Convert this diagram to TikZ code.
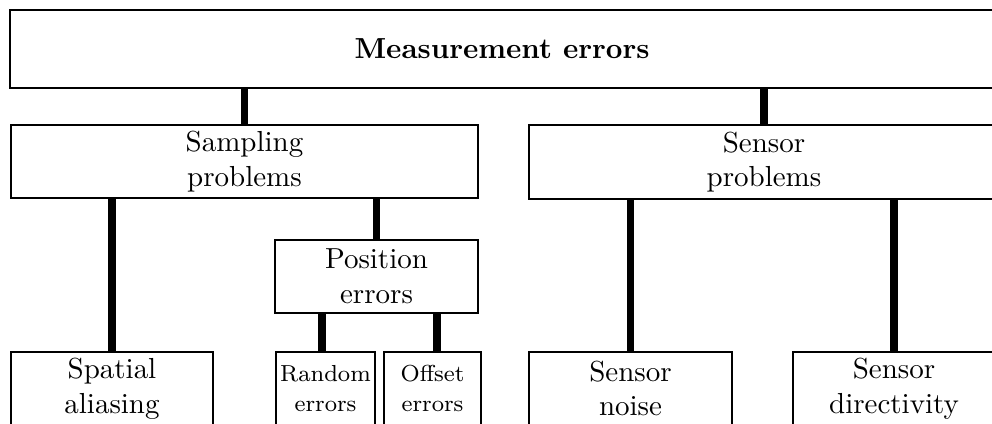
\documentclass[tikz,border=0pt]{standalone}
\begin{document}
\begin{tikzpicture}[
  x=0.345pt, y=-0.345pt,
  blk/.style={draw, line width=0.7pt, rectangle, inner sep=0pt, outer sep=0pt,
              align=center, font=\fontsize{10}{12}\selectfont},
  smallblk/.style={blk, font=\fontsize{8}{10.3}\selectfont},
  link/.style={line width=2.6pt},
]
\useasboundingbox (0,0) rectangle (992,423);
\clip (0,0) rectangle (992,423);

% top level
\node[blk, minimum width={984*0.345pt}, minimum height={78*0.345pt}]
  (root) at (502,49) {\textbf{Measurement errors}};

% second level
\node[blk, minimum width={467*0.345pt}, minimum height={73*0.345pt}]
  (samp) at (244.5,161.5) {Sampling\\problems};
\node[blk, minimum width={470*0.345pt}, minimum height={74*0.345pt}]
  (sens) at (764,162) {Sensor\\problems};

% third level
\node[blk, minimum width={203*0.345pt}, minimum height={73*0.345pt}]
  (pos) at (376.5,276.5) {Position\\errors};

% leaves
\node[blk, minimum width={202*0.345pt}, minimum height={73*0.345pt}]
  (spat) at (112,388.5) {Spatial\\aliasing};
\node[smallblk, minimum width={99*0.345pt}, minimum height={73*0.345pt}]
  (rnd) at (325.5,388.5) {Random\\errors};
\node[smallblk, minimum width={97*0.345pt}, minimum height={73*0.345pt}]
  (off) at (432.5,388.5) {Offset\\errors};
\node[blk, minimum width={203*0.345pt}, minimum height={73*0.345pt}]
  (noise) at (630.5,388.5) {Sensor\\noise};
\node[blk, minimum width={202*0.345pt}, minimum height={73*0.345pt}]
  (dir) at (894,388.5) {Sensor\\directivity};

% connectors
\draw[link] (root.south -| samp.north) -- (samp.north);
\draw[link] (root.south -| sens.north) -- (sens.north);
\draw[link] (samp.south -| spat.north) -- (spat.north);
\draw[link] (samp.south -| pos.north) -- (pos.north);
\draw[link] ([xshift=-1.2pt]rnd.north) -- ([xshift=-1.2pt]rnd.north |- pos.south);
\draw[link] ([xshift=1.55pt]off.north) -- ([xshift=1.55pt]off.north |- pos.south);
\draw[link] (sens.south -| noise.north) -- (noise.north);
\draw[link] (sens.south -| dir.north) -- (dir.north);
\end{tikzpicture}
\end{document}
